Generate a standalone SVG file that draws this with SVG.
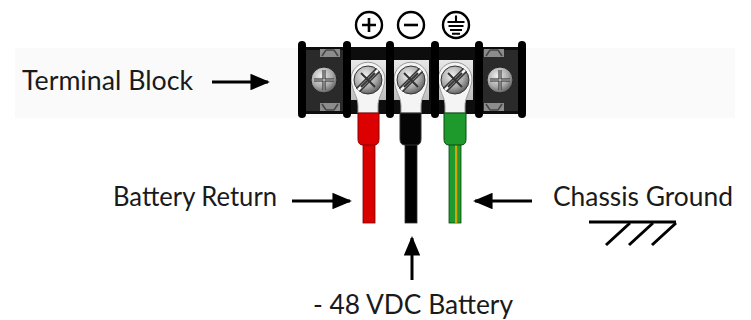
<svg xmlns="http://www.w3.org/2000/svg" width="751" height="320" viewBox="0 0 751 320">
<defs>
<style>
.lbl{font-family:Lato,"Open Sans","Liberation Sans",sans-serif;font-size:26px;fill:#1a1a1a}
.arr{stroke:#000;stroke-width:3;fill:none}
.bar{fill:#000}
.sym{fill:none;stroke:#000;stroke-width:2.4}
</style>
<radialGradient id="scr" cx="0.4" cy="0.35" r="0.7">
<stop offset="0" stop-color="#f2f2f2"/>
<stop offset="0.6" stop-color="#a8a8a8"/>
<stop offset="1" stop-color="#555"/>
</radialGradient>
<linearGradient id="plate" x1="0" y1="0" x2="0" y2="1">
<stop offset="0" stop-color="#e8e8e8"/>
<stop offset="1" stop-color="#bdbdbd"/>
</linearGradient>
<marker id="ah" viewBox="0 0 10 10" refX="9" refY="5" markerWidth="6.5" markerHeight="5.5" markerUnits="strokeWidth" orient="auto" preserveAspectRatio="none">
<path d="M0,0 L10,5 L0,10 z" fill="#000"/>
</marker>
</defs>
<rect width="751" height="320" fill="#fff"/>
<rect x="15" y="48" width="720" height="70" fill="#fafafa"/>

<g id="terminal-block">
<rect x="302" y="47" width="220" height="67" fill="#0d0d0d"/>
<rect x="306" y="50" width="38" height="61" fill="#2a2a2a"/>
<rect x="481" y="50" width="38" height="61" fill="#2a2a2a"/>
<g fill="#8c8c8c">
<rect x="320" y="49" width="20" height="8"/>
<rect x="320" y="103" width="20" height="8"/>
<rect x="484" y="49" width="20" height="8"/>
<rect x="484" y="103" width="20" height="8"/>
</g>
<g stroke="#444" stroke-width="1.5" fill="none">
<path d="M322,56 L326,50 M338,56 L334,50 M326,50 L334,50"/>
<path d="M322,104 L326,110 M338,104 L334,110 M326,110 L334,110"/>
<path d="M486,56 L490,50 M502,56 L498,50 M490,50 L498,50"/>
<path d="M486,104 L490,110 M502,104 L498,110 M490,110 L498,110"/>
</g>
<g id="end-screw-left" transform="translate(324,80)">
<circle r="13" fill="url(#scr)" stroke="#222" stroke-width="1"/>
<path d="M0,-10 L0,10 M-10,0 L10,0" stroke="#222" stroke-width="3"/>
<path d="M0,-10 L0,10 M-10,0 L10,0" stroke="#ddd" stroke-width="1"/>
</g>
<g id="end-screw-right" transform="translate(500,80)">
<circle r="13" fill="url(#scr)" stroke="#222" stroke-width="1"/>
<path d="M0,-10 L0,10 M-10,0 L10,0" stroke="#222" stroke-width="3"/>
<path d="M0,-10 L0,10 M-10,0 L10,0" stroke="#ddd" stroke-width="1"/>
</g>
<g id="term-pos" transform="translate(368,80)">
<rect x="-18" y="-20" width="36" height="40" fill="url(#plate)"/>
<path d="M-16,5 A17,17 0 1 1 16,5 C14,14 10,18 10,26 L10,33 L-10,33 L-10,26 C-10,18 -14,14 -16,5 z" fill="#f4f4f4" stroke="#999" stroke-width="1"/>
<circle r="14" fill="url(#scr)" stroke="#333" stroke-width="1"/>
<path d="M-10,10 L10,-10" stroke="#333" stroke-width="6"/>
<path d="M-10,10 L10,-10" stroke="#f5f5f5" stroke-width="2.5"/>
<path d="M-7,-7 L7,7 M-7,7 L7,-7" stroke="#333" stroke-width="2"/>
</g>
<g id="term-neg" transform="translate(411,80)">
<rect x="-18" y="-20" width="36" height="40" fill="url(#plate)"/>
<path d="M-16,5 A17,17 0 1 1 16,5 C14,14 10,18 10,26 L10,33 L-10,33 L-10,26 C-10,18 -14,14 -16,5 z" fill="#f4f4f4" stroke="#999" stroke-width="1"/>
<circle r="14" fill="url(#scr)" stroke="#333" stroke-width="1"/>
<path d="M-10,10 L10,-10" stroke="#333" stroke-width="6"/>
<path d="M-10,10 L10,-10" stroke="#f5f5f5" stroke-width="2.5"/>
<path d="M-7,-7 L7,7 M-7,7 L7,-7" stroke="#333" stroke-width="2"/>
</g>
<g id="term-gnd" transform="translate(455,80)">
<rect x="-18" y="-20" width="36" height="40" fill="url(#plate)"/>
<path d="M-16,5 A17,17 0 1 1 16,5 C14,14 10,18 10,26 L10,33 L-10,33 L-10,26 C-10,18 -14,14 -16,5 z" fill="#f4f4f4" stroke="#999" stroke-width="1"/>
<circle r="14" fill="url(#scr)" stroke="#333" stroke-width="1"/>
<path d="M-10,10 L10,-10" stroke="#333" stroke-width="6"/>
<path d="M-10,10 L10,-10" stroke="#f5f5f5" stroke-width="2.5"/>
<path d="M-7,-7 L7,7 M-7,7 L7,-7" stroke="#333" stroke-width="2"/>
</g>
<rect class="bar" x="298" y="41" width="8" height="77" rx="4"/>
<rect class="bar" x="343" y="41" width="8" height="77" rx="4"/>
<rect class="bar" x="386" y="41" width="8" height="77" rx="4"/>
<rect class="bar" x="431" y="41" width="8" height="77" rx="4"/>
<rect class="bar" x="475" y="41" width="8" height="77" rx="4"/>
<rect class="bar" x="518" y="41" width="8" height="77" rx="4"/>
</g>

<g id="symbols">
<g id="sym-plus" transform="translate(369,25)">
<circle r="13" class="sym"/>
<path d="M-7,0 H7 M0,-7 V7" stroke="#000" stroke-width="2.6"/>
</g>
<g id="sym-minus" transform="translate(411,25)">
<circle r="13" class="sym"/>
<path d="M-7,0 H7" stroke="#000" stroke-width="2.6"/>
</g>
<g id="sym-ground" transform="translate(456,25)">
<circle r="13" class="sym"/>
<path d="M0,-9.5 V-3 M-8.5,-3 H8.5 M-7.5,1 H7.5 M-6,5 H6 M-4,8.8 H4" stroke="#000" stroke-width="2.1"/>
</g>
</g>

<g id="wires">
<g id="wire-red">
<rect x="363" y="140" width="12" height="83" fill="#d90000" stroke="#700" stroke-width="0.8"/>
<path d="M358,113 H379 V139 Q379,145 374,145 H363 Q358,145 358,139 z" fill="#dd0000" stroke="#800" stroke-width="1"/>
</g>
<g id="wire-black">
<rect x="405" y="140" width="12" height="83" fill="#000" stroke="#333" stroke-width="0.8"/>
<path d="M400,113 H421 V139 Q421,145 416,145 H405 Q400,145 400,139 z" fill="#050505" stroke="#333" stroke-width="1"/>
</g>
<g id="wire-green">
<rect x="449" y="140" width="12" height="83" fill="#1f9a2e" stroke="#0a4a12" stroke-width="0.8"/>
<rect x="455" y="145" width="2.2" height="78" fill="#d9a300"/>
<path d="M444,113 H466 V139 Q466,145 461,145 H449 Q444,145 444,139 z" fill="#1e9a2c" stroke="#0a4a12" stroke-width="1"/>
</g>
</g>

<g id="connectors">
<line class="arr" x1="212" y1="82" x2="268" y2="82" marker-end="url(#ah)"/>
<line class="arr" x1="292" y1="201" x2="350" y2="201" marker-end="url(#ah)"/>
<line class="arr" x1="532" y1="201" x2="475" y2="201" marker-end="url(#ah)"/>
<line class="arr" x1="412" y1="280" x2="412" y2="238" marker-end="url(#ah)"/>
</g>

<g id="chassis-ground-symbol" stroke="#000" stroke-width="3" fill="none">
<path d="M589,222 H676"/>
<path d="M630,223 L606,245 M653,223 L629,245 M676,223 L652,245"/>
</g>

<g id="labels">
<text class="lbl" x="22" y="90" textLength="171" lengthAdjust="spacingAndGlyphs">Terminal Block</text>
<text class="lbl" x="113" y="206" textLength="164" lengthAdjust="spacingAndGlyphs">Battery Return</text>
<text class="lbl" x="553" y="206" textLength="180" lengthAdjust="spacingAndGlyphs">Chassis Ground</text>
<text class="lbl" x="313" y="314" textLength="200" lengthAdjust="spacingAndGlyphs">- 48 VDC Battery</text>
</g>
</svg>
